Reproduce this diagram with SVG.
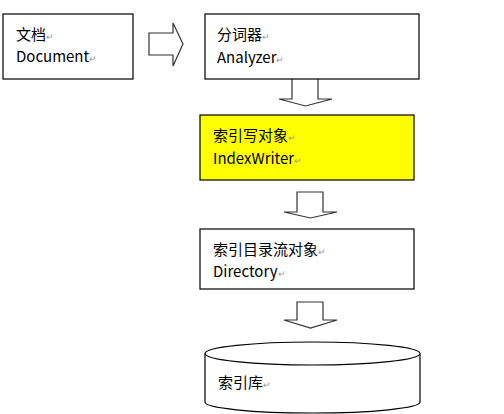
<svg xmlns="http://www.w3.org/2000/svg" width="504" height="414" viewBox="0 0 504 414">
<style>
.box{fill:#ffffff;stroke:#000000;stroke-width:1.2}
.hl{fill:#ffff00}
.arrow{fill:#ffffff;stroke:#333333;stroke-width:1.2;stroke-linejoin:miter}
text{font-family:"Noto Sans CJK SC","Noto Sans",sans-serif;font-size:15px;fill:#000000}
.rm{font-size:9px;fill:#999999}
</style>
<rect width="504" height="414" fill="#ffffff"/>
<g id="connectors">
<path class="arrow" d="M149,33 H173 V23 L183,44 L173,66 V55 H149 Z"/>
<path class="arrow" d="M292,79 V99 H279 L305.5,106 L332,99 H318 V79"/>
<path class="arrow" d="M297,192 V212 H284 L310.5,218 L337,212 H323 V192 Z"/>
<path class="arrow" d="M297,302 V320 H284 L310.5,328 L337,320 H323 V302 Z"/>
</g>
<g id="document">
<rect class="box" x="3" y="14" width="130" height="65"/>
<text x="16" y="40">文档<tspan class="rm">↵</tspan></text>
<text x="16" y="62">Document<tspan class="rm">↵</tspan></text>
</g>
<g id="analyzer">
<rect class="box" x="205" y="14" width="214" height="65"/>
<text x="217" y="40">分词器<tspan class="rm">↵</tspan></text>
<text x="217" y="63">Analyzer<tspan class="rm">↵</tspan></text>
</g>
<g id="indexwriter">
<rect class="box hl" x="200" y="115" width="214" height="65"/>
<text x="213" y="141">索引写对象<tspan class="rm">↵</tspan></text>
<text x="213" y="164">IndexWriter<tspan class="rm">↵</tspan></text>
</g>
<g id="directory">
<rect class="box" x="200" y="229" width="214" height="60"/>
<text x="213" y="255">索引目录流对象<tspan class="rm">↵</tspan></text>
<text x="213" y="277">Directory<tspan class="rm">↵</tspan></text>
</g>
<g id="index-db">
<path class="box" d="M205,353.5 V402 A107.5,11 0 0 0 420,402 V353.5"/>
<ellipse class="box" cx="312.5" cy="353.5" rx="107.5" ry="11.5"/>
<text x="218" y="388">索引库<tspan class="rm">↵</tspan></text>
</g>
</svg>
